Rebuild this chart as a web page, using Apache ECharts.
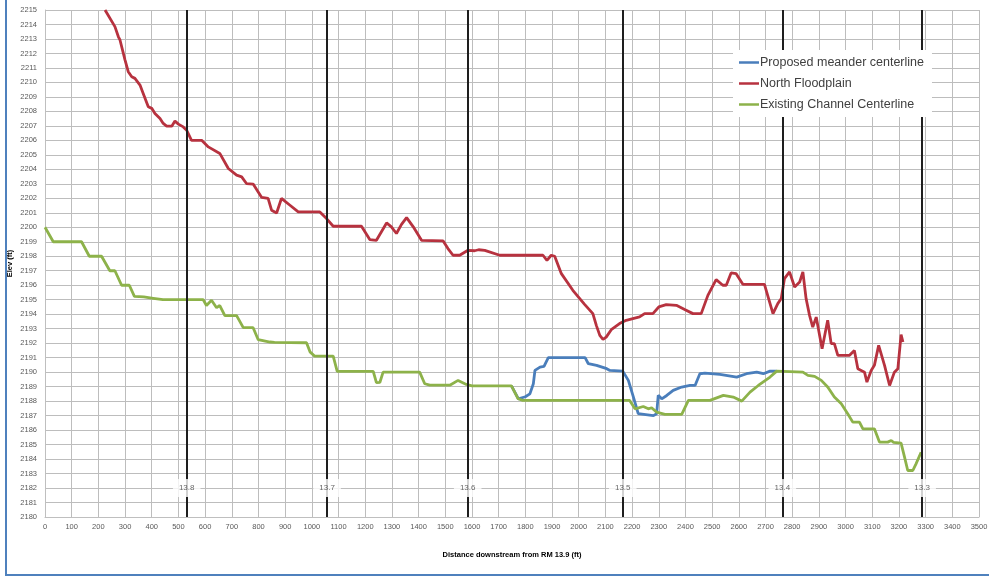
<!DOCTYPE html>
<html>
<head>
<meta charset="utf-8">
<script src="https://cdn.jsdelivr.net/npm/echarts@6/dist/echarts.min.js"></script>
<style>
html,body{margin:0;padding:0;background:#fff;}
#chart{width:989px;height:576px;}
</style>
</head>
<body>
<div id="chart"></div>
<script>
// ---- Data ----
var seriesNames = ['Proposed meander centerline', 'North Floodplain', 'Existing Channel Centerline'];

var proposedMeander = [[1748,2189.05],[1774,2188.16],[1800,2188.3],[1817,2188.5],[1830,2189.2],[1836,2190.12],[1855,2190.35],[1870,2190.4],[1886,2191.0],[2024,2191.0],[2036,2190.58],[2067,2190.47],[2105,2190.24],[2117,2190.12],[2165,2190.07],[2186,2189.43],[2205,2188.28],[2223,2187.13],[2230,2187.0],[2280,2187.0],[2292,2187.13],[2298,2188.4],[2311,2188.16],[2330,2188.39],[2354,2188.74],[2386,2188.97],[2417,2189.08],[2436,2189.08],[2454,2189.89],[2473,2189.93],[2529,2189.84],[2592,2189.66],[2629,2189.89],[2667,2190.0],[2692,2189.89],[2717,2190.07],[2742,2190.07]];

var northFloodplain = [[225,2215.0],[262,2213.85],[275,2213.15],[281,2212.93],[300,2211.54],[312,2210.74],[325,2210.39],[337,2210.28],[356,2209.82],[368,2209.24],[387,2208.32],[400,2208.21],[412,2207.86],[431,2207.51],[443,2207.17],[456,2206.98],[475,2206.98],[487,2207.33],[500,2207.12],[518,2206.93],[531,2206.7],[549,2206.0],[587,2206.0],[612,2205.55],[655,2205.1],[687,2204.06],[718,2203.6],[737,2203.48],[755,2203.02],[780,2202.98],[812,2202.06],[836,2201.99],[849,2201.18],[868,2200.99],[886,2201.99],[918,2201.52],[949,2201.06],[1030,2201.06],[1055,2200.6],[1080,2200.07],[1186,2200.07],[1217,2199.15],[1242,2199.1],[1280,2200.3],[1298,2200.03],[1317,2199.57],[1336,2200.2],[1355,2200.67],[1380,2200.03],[1411,2199.1],[1492,2199.06],[1510,2198.53],[1529,2198.07],[1554,2198.07],[1585,2198.41],[1610,2198.38],[1625,2198.45],[1648,2198.41],[1704,2198.07],[1866,2198.07],[1881,2197.72],[1897,2198.07],[1910,2198.0],[1935,2196.8],[1978,2195.65],[2022,2194.68],[2053,2194.04],[2066,2193.23],[2079,2192.54],[2091,2192.26],[2103,2192.42],[2122,2192.93],[2153,2193.35],[2178,2193.58],[2228,2193.81],[2247,2194.04],[2278,2194.04],[2300,2194.5],[2328,2194.66],[2366,2194.61],[2397,2194.32],[2428,2194.04],[2459,2194.04],[2484,2195.3],[2515,2196.39],[2540,2196.0],[2553,2196.0],[2571,2196.85],[2590,2196.8],[2615,2196.06],[2696,2196.06],[2728,2194.04],[2746,2194.73],[2759,2195.08],[2771,2196.46],[2790,2196.92],[2809,2195.88],[2828,2196.22],[2840,2196.92],[2852,2195.08],[2865,2193.92],[2877,2193.11],[2890,2193.8],[2912,2191.62],[2933,2193.58],[2946,2191.97],[2958,2191.97],[2971,2191.16],[3015,2191.16],[3033,2191.5],[3046,2190.24],[3071,2190.0],[3080,2189.31],[3096,2190.12],[3108,2190.47],[3124,2191.85],[3146,2190.47],[3165,2189.08],[3183,2190.0],[3196,2190.24],[3208,2192.59],[3215,2192.08]];

var existingChannel = [[0,2200.0],[31,2199.0],[137,2199.0],[166,2198.0],[212,2198.0],[243,2197.0],[262,2197.0],[287,2196.0],[316,2196.0],[335,2195.23],[370,2195.2],[406,2195.1],[442,2195.0],[593,2195.0],[605,2194.6],[624,2194.96],[643,2194.45],[655,2194.6],[674,2193.9],[718,2193.9],[743,2193.07],[780,2193.07],[799,2192.24],[843,2192.08],[850,2192.2],[860,2192.05],[980,2192.03],[993,2191.4],[1011,2191.1],[1080,2191.1],[1095,2190.05],[1230,2190.05],[1242,2189.27],[1255,2189.3],[1267,2190.0],[1404,2190.0],[1423,2189.2],[1442,2189.1],[1517,2189.1],[1548,2189.43],[1579,2189.15],[1600,2189.05],[1748,2189.05],[1773,2188.16],[1790,2188.05],[2191,2188.05],[2211,2187.47],[2242,2187.63],[2261,2187.47],[2273,2187.54],[2292,2187.24],[2323,2187.08],[2386,2187.08],[2411,2188.05],[2492,2188.05],[2542,2188.4],[2579,2188.28],[2611,2188.0],[2642,2188.62],[2673,2189.08],[2717,2189.66],[2742,2190.07],[2840,2190.0],[2859,2189.78],[2884,2189.71],[2909,2189.43],[2933,2188.97],[2958,2188.28],[2984,2187.82],[3008,2187.13],[3027,2186.55],[3052,2186.55],[3065,2186.09],[3108,2186.09],[3127,2185.17],[3158,2185.17],[3171,2185.28],[3180,2185.15],[3208,2185.1],[3221,2184.13],[3233,2183.21],[3252,2183.21],[3264,2183.67],[3283,2184.47]];

var riverMileLabels = ['13.8', '13.7', '13.6', '13.5', '13.4', '13.3'];
var riverMileDistance = [531, 1057, 1584, 2165, 2763, 3287];
var riverMileLabelElev = 2182;

var xAxisTitle = 'Distance downstream from RM 13.9 (ft)';
var yAxisTitle = 'Elev (ft)';

// ---- Chart ----
var chart = echarts.init(document.getElementById('chart'), null, {renderer: 'canvas'});
var axisFont = {fontFamily: 'Liberation Sans', fontSize: 7.5, color: '#595959'};
function plain(v) { return String(v); }

var option = {
  animation: false,
  backgroundColor: '#fff',
  grid: {left: 45, right: 10, top: 10, bottom: 59, containLabel: false, outerBoundsMode: 'none'},
  legend: {
    data: seriesNames,
    orient: 'vertical',
    left: 733, top: 50,
    padding: [6, 8, 6, 6],
    backgroundColor: '#fff',
    icon: 'rect',
    itemWidth: 20, itemHeight: 2.5,
    itemGap: 8,
    textStyle: {fontFamily: 'Liberation Sans', fontSize: 12.5, color: '#404040', padding: [0, 0, 0, -4]},
    z: 20
  },
  xAxis: {
    type: 'value', min: 0, max: 3500, interval: 100,
    name: xAxisTitle, nameLocation: 'middle', nameGap: 34, nameMoveOverlap: false,
    nameTextStyle: {fontFamily: 'Liberation Sans', fontSize: 7.5, fontWeight: 'bold', color: '#000'},
    axisLine: {show: true, lineStyle: {color: '#bfbfbf'}},
    axisTick: {show: false},
    axisLabel: Object.assign({margin: 6, formatter: plain}, axisFont),
    splitLine: {show: true, lineStyle: {color: '#bdbdbd', width: 1}}
  },
  yAxis: {
    type: 'value', min: 2180, max: 2215, interval: 1,
    name: yAxisTitle, nameLocation: 'middle', nameGap: 31, nameRotate: 90, nameMoveOverlap: false,
    nameTextStyle: {fontFamily: 'Liberation Sans', fontSize: 7.5, fontWeight: 'bold', color: '#000'},
    axisLine: {show: true, lineStyle: {color: '#bfbfbf'}},
    axisTick: {show: false},
    axisLabel: Object.assign({margin: 8, formatter: plain}, axisFont),
    splitLine: {show: true, lineStyle: {color: '#bdbdbd', width: 1}}
  },
  series: [
    {
      name: 'markers', type: 'line', data: [], silent: true, z: 1,
      markLine: {
        silent: true, symbol: ['none', 'none'], animation: false,
        label: {show: false},
        lineStyle: {color: '#1e1e1e', width: 2, type: 'solid'},
        data: riverMileDistance.map(function (d) { return {xAxis: d}; })
      }
    },
    {
      name: seriesNames[0], type: 'line', data: proposedMeander, showSymbol: false, symbol: 'none',
      lineStyle: {color: '#4a7ebb', width: 2.8}, itemStyle: {color: '#4a7ebb'}, z: 3
    },
    {
      name: seriesNames[1], type: 'line', data: northFloodplain, showSymbol: false, symbol: 'none',
      lineStyle: {color: '#b7323f', width: 2.8}, itemStyle: {color: '#b7323f'}, z: 3
    },
    {
      name: seriesNames[2], type: 'line', data: existingChannel, showSymbol: false, symbol: 'none',
      lineStyle: {color: '#8db24a', width: 2.8}, itemStyle: {color: '#8db24a'}, z: 4
    },
    {
      name: 'mileLabels', type: 'scatter', silent: true, z: 6, symbolSize: 0,
      data: riverMileDistance.map(function (d, i) { return [d, riverMileLabelElev, riverMileLabels[i]]; }),
      label: {
        show: true, position: 'inside',
        formatter: function (p) { return p.value[2]; },
        fontFamily: 'Liberation Sans', fontSize: 8, color: '#404040',
        backgroundColor: '#fff', padding: [5, 6]
      }
    }
  ],
  graphic: [
    {type: 'line', shape: {x1: 6, y1: 0, x2: 6, y2: 575}, style: {stroke: '#4f81bd', lineWidth: 2}, z: 100},
    {type: 'line', shape: {x1: 5, y1: 575, x2: 989, y2: 575}, style: {stroke: '#4f81bd', lineWidth: 2}, z: 100}
  ]
};
chart.setOption(option);
</script>
</body>
</html>
